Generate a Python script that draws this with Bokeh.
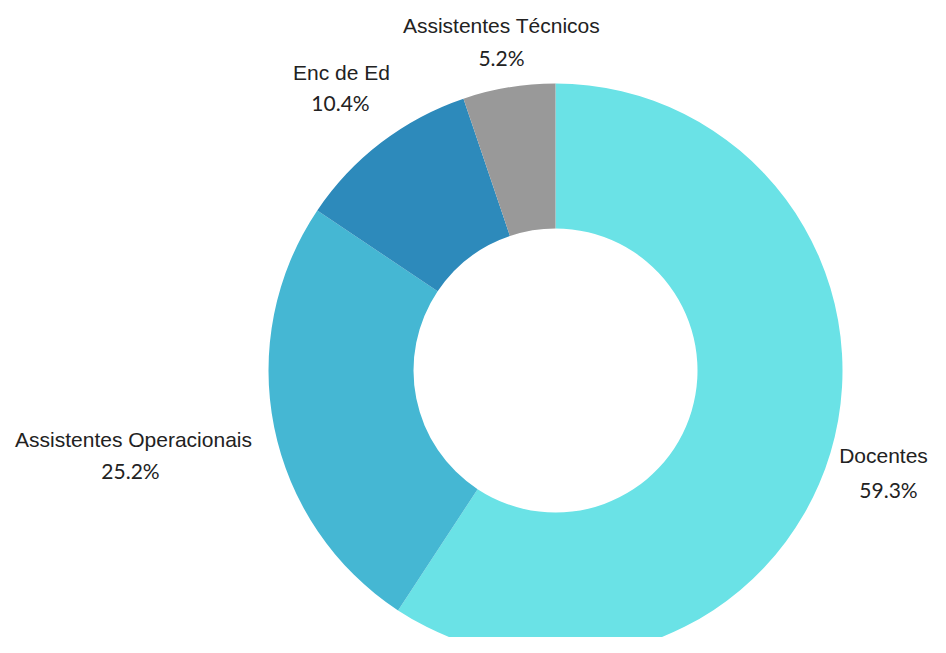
import math
from bokeh.plotting import figure
from bokeh.models import Range1d, ColumnDataSource
from bokeh.core.properties import value
from bokeh.embed import file_html
from bokeh.resources import INLINE

# ---- data ----
categories = ["Docentes", "Assistentes Operacionais", "Enc de Ed", "Assistentes Técnicos"]
percentages = [59.3, 25.2, 10.4, 5.2]
colors = ["#6ae2e6", "#45b7d3", "#2d8abb", "#999999"]

# ---- layout (image pixel coordinates, y measured from top) ----
W, H = 930, 637
cx, cy = 555, 370
r_outer, r_inner = 287, 142
# name label centre x / baseline y ; pct label centre x / baseline y
name_pos = [(883, 455), (133, 439), (341, 72), (501, 25)]
pct_pos = [(888, 489), (130, 470), (340, 102), (501, 57)]

def fy(y):
    return 653 - y

total = sum(percentages)
starts, ends = [], []
cum = 0.0
for v in percentages:
    a0 = cum / total
    cum += v
    a1 = cum / total
    starts.append(math.pi / 2 - 2 * math.pi * a1)
    ends.append(math.pi / 2 - 2 * math.pi * a0)

p = figure(width=W, height=H, output_backend="svg", toolbar_location=None,
           x_range=Range1d(0, W), y_range=Range1d(653 - H, 653),
           min_border=0, outline_line_color=None)
p.axis.visible = False
p.grid.visible = False
p.background_fill_color = "white"
p.border_fill_color = "white"

src = ColumnDataSource(dict(start=starts, end=ends, color=colors, cat=categories))
p.annular_wedge(x=cx, y=fy(cy), inner_radius=r_inner, outer_radius=r_outer,
                start_angle="start", end_angle="end", fill_color="color",
                line_color=None, source=src)

name_src = ColumnDataSource(dict(x=[q[0] for q in name_pos], y=[fy(q[1]) for q in name_pos],
                                 t=categories))
pct_src = ColumnDataSource(dict(x=[q[0] for q in pct_pos], y=[fy(q[1]) for q in pct_pos],
                                t=["%.1f%%" % v for v in percentages]))

p.text(x="x", y="y", text="t", source=name_src, text_align="center",
       text_baseline="alphabetic", text_font=value("Liberation Sans"),
       text_font_size="21px", text_color="#222222")
p.text(x="x", y="y", text="t", source=pct_src, text_align="center",
       text_baseline="alphabetic", text_font=value("Lato"),
       text_font_size="21px", text_color="#222222")

open("out.html", "w").write(file_html(p, INLINE))
